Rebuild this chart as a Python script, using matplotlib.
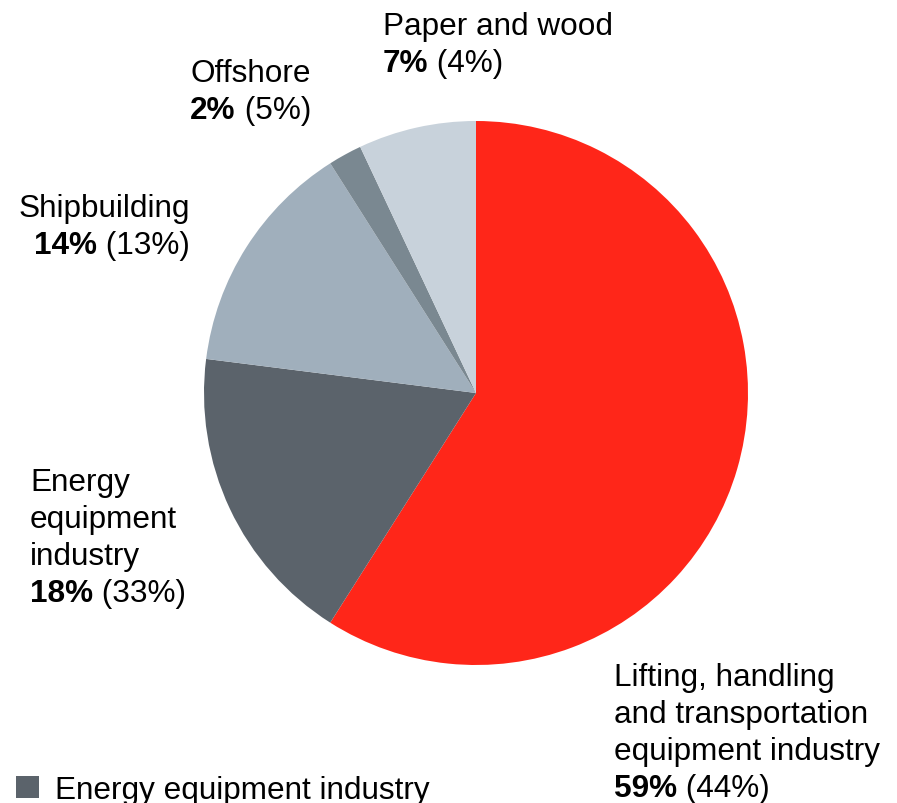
import matplotlib
matplotlib.use("Agg")
import matplotlib.pyplot as plt
from matplotlib.patches import Patch

plt.rcParams['font.family'] = ['Liberation Sans', 'DejaVu Sans']

categories = ["Lifting, handling\nand transportation\nequipment industry",
              "Energy\nequipment\nindustry",
              "Shipbuilding",
              "Offshore",
              "Paper and wood"]
shares = [59, 18, 14, 2, 7]            # current share, %
prior_shares = [44, 33, 13, 5, 4]      # comparison share, %
colors = ["#FF2619", "#5B636B", "#A0AFBC", "#7A8891", "#C8D2DB"]
legend_names = ["Energy equipment industry",
                "Lifting, handling and transportation equipment industry",
                "Offshore", "Paper and wood", "Shipbuilding"]
legend_colors = ["#5B636B", "#FF2619", "#7A8891", "#C8D2DB", "#A0AFBC"]

W, H = 897, 804
fig = plt.figure(figsize=(W / 100, H / 100), dpi=100)

cx, cy, r = 476, 394, 272
ax = fig.add_axes([(cx - r) / W, (H - cy - r) / H, 2 * r / W, 2 * r / H])
ax.pie(shares, colors=colors, startangle=90, counterclock=False,
       radius=1.0, wedgeprops=dict(linewidth=0))
ax.set_xlim(-1, 1)
ax.set_ylim(-1, 1)
ax.set_aspect('equal')
ax.axis('off')

FS = 22.7
STEP = 37


def fx(x):
    return x / W


def fy(y):
    return 1 - y / H


def label(name, share, prior, x, y_first, ha):
    lines = name.split("\n")
    for i, ln in enumerate(lines):
        fig.text(fx(x), fy(y_first + i * STEP), ln, fontsize=FS,
                 ha=ha, va='baseline', color='black')
    yb = y_first + len(lines) * STEP
    if ha == 'left':
        t = fig.text(fx(x), fy(yb), f"{share}%", fontsize=FS,
                     fontweight='bold', ha='left', va='baseline')
        fig.add_artist(matplotlib.text.Annotation(
            f" ({prior}%)", xy=(1, 0), xycoords=t, fontsize=FS,
            ha='left', va='bottom', annotation_clip=False))
    else:
        t = fig.text(fx(x), fy(yb), f" ({prior}%)", fontsize=FS,
                     ha='right', va='baseline')
        fig.add_artist(matplotlib.text.Annotation(
            f"{share}%", xy=(0, 0), xycoords=t, fontsize=FS,
            fontweight='bold', ha='right', va='bottom',
            annotation_clip=False))


label(categories[0], shares[0], prior_shares[0], 614, 686, 'left')
label(categories[1], shares[1], prior_shares[1], 30, 491, 'left')
label(categories[2], shares[2], prior_shares[2], 190, 217, 'right')
label(categories[3], shares[3], prior_shares[3], 190, 82, 'left')
label(categories[4], shares[4], prior_shares[4], 383, 35, 'left')

handles = [Patch(facecolor=c, edgecolor='none') for c in legend_colors]
fig.legend(handles, legend_names, loc='upper left',
           bbox_to_anchor=(fx(16), fy(776)), frameon=False, fontsize=FS,
           handlelength=0.72, handleheight=0.72, handletextpad=0.52,
           borderpad=0, borderaxespad=0)

fig.savefig("out.png", dpi=100)
